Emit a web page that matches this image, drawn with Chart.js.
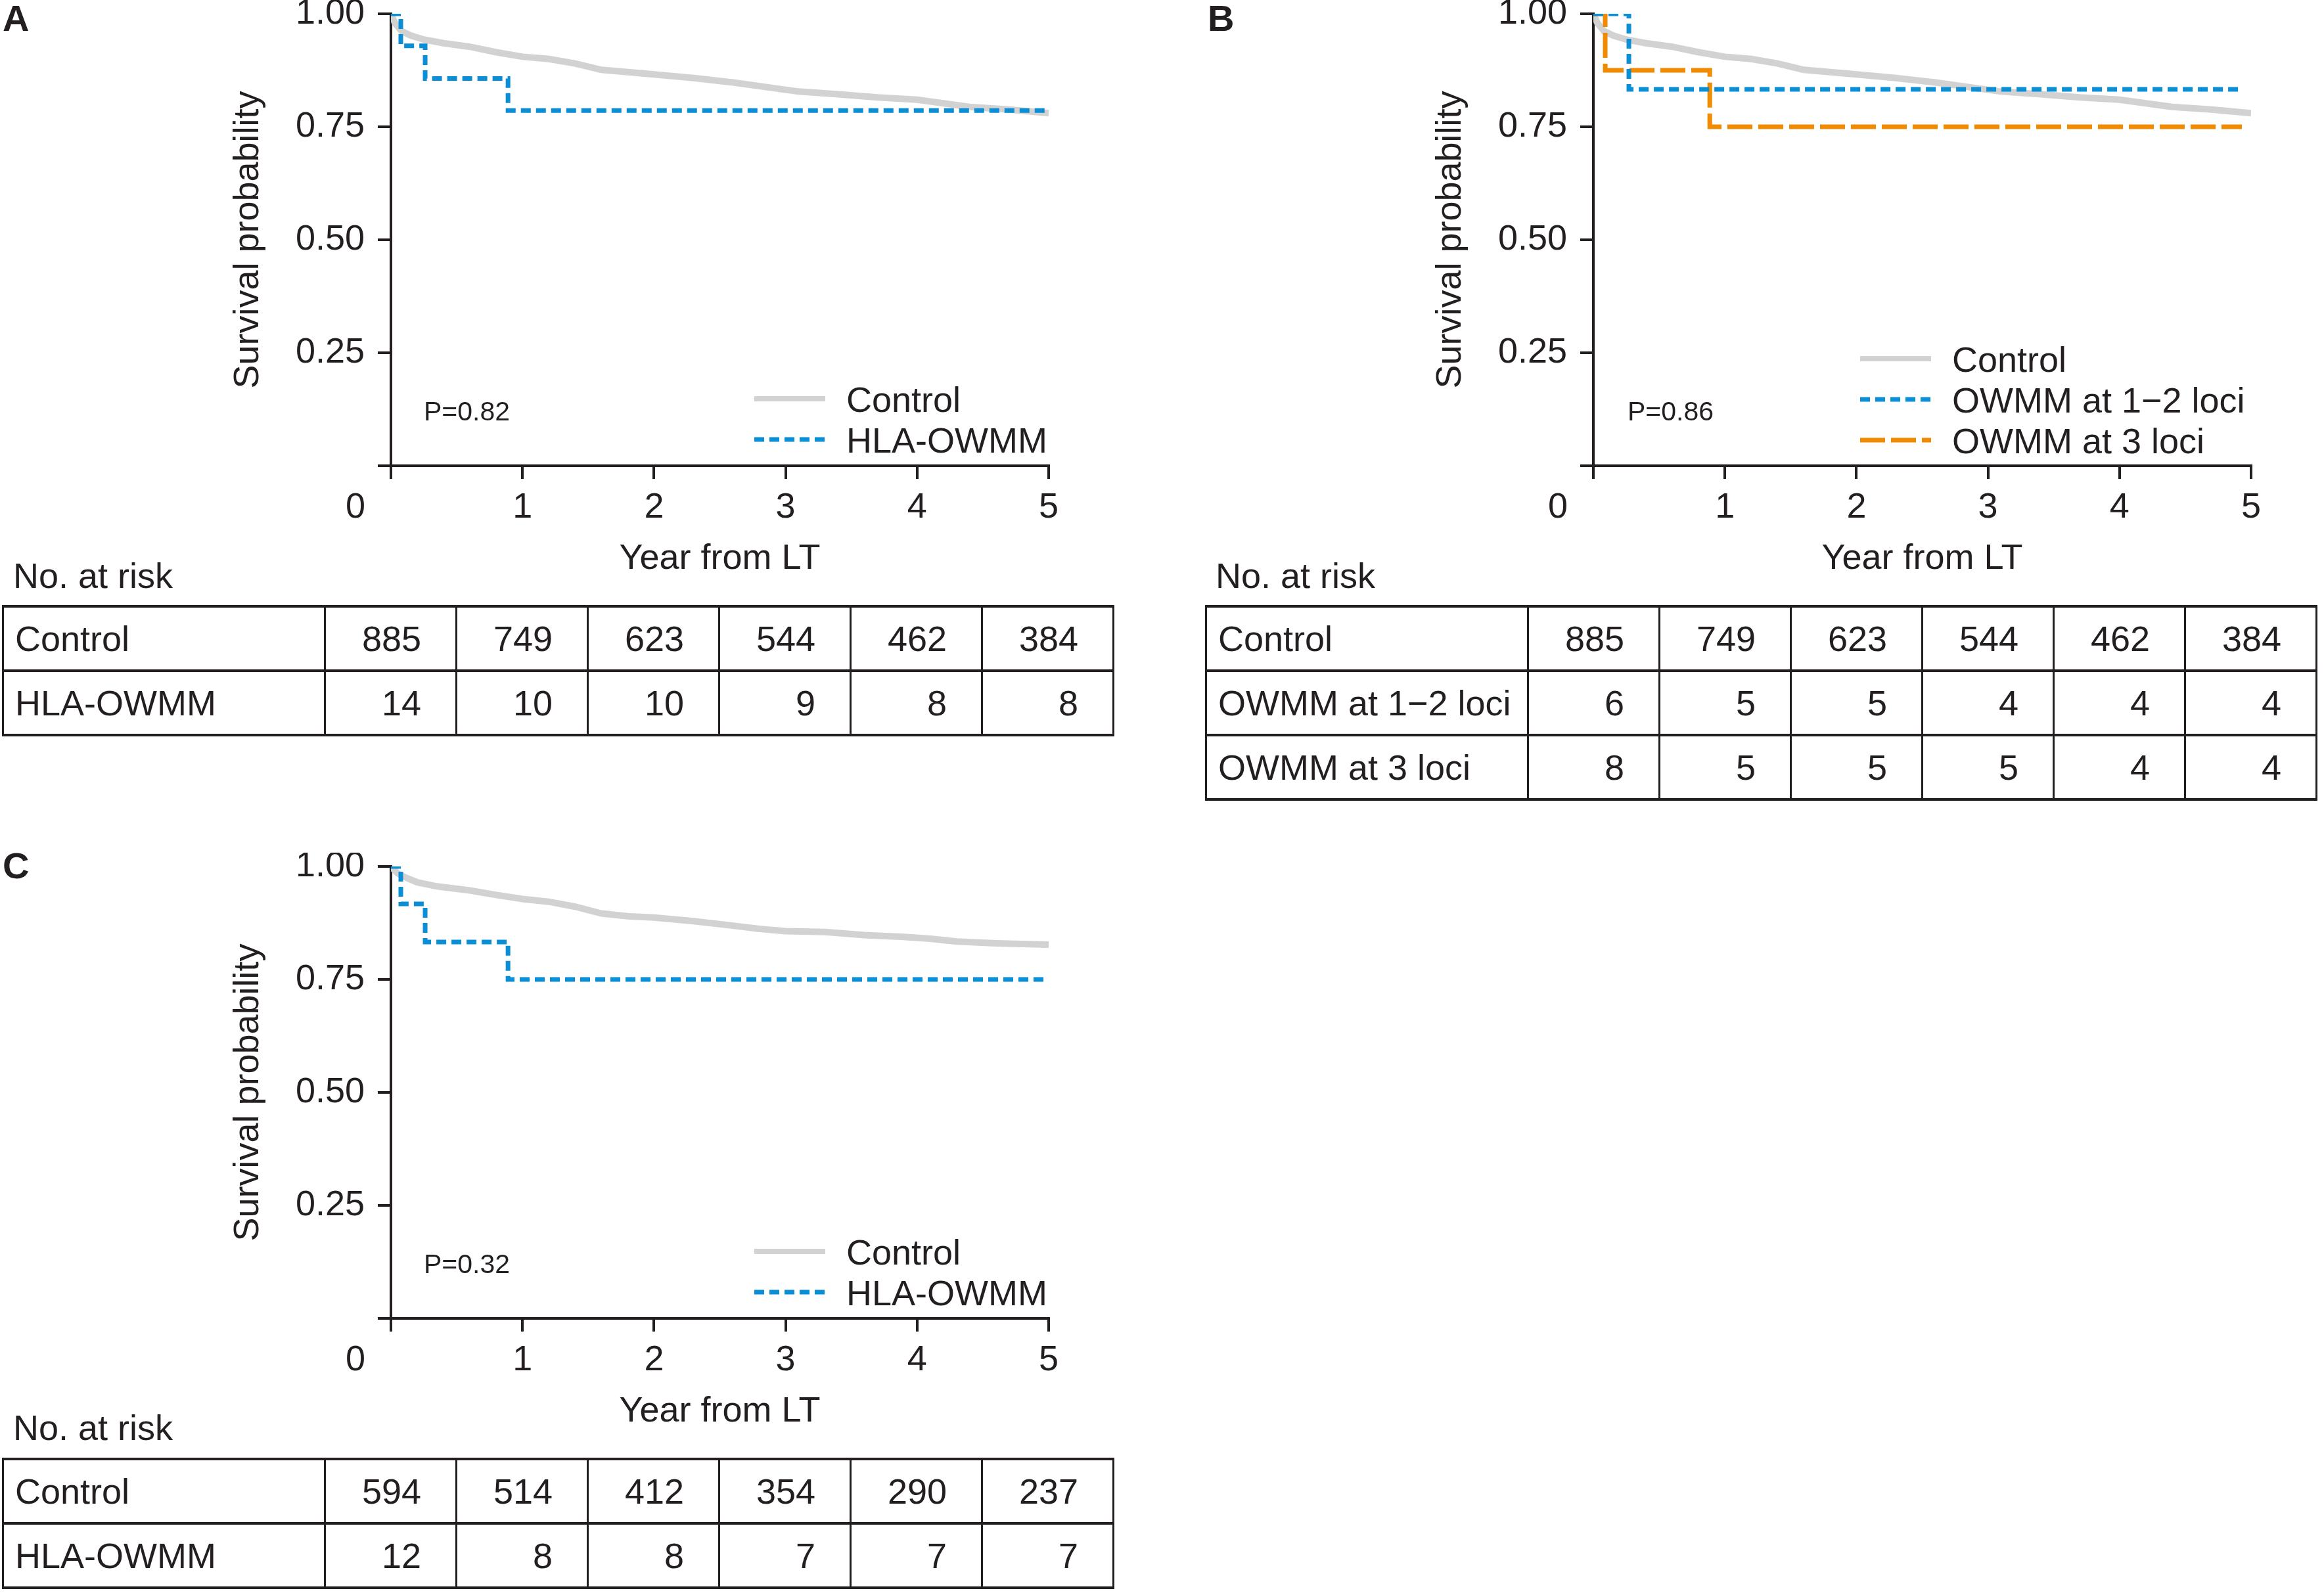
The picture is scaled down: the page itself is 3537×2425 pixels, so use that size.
<!DOCTYPE html>
<html>
<head>
<meta charset="utf-8">
<script src="https://cdn.jsdelivr.net/npm/chart.js@4.4.1/dist/chart.umd.min.js"></script>
<style>
  html, body { margin: 0; padding: 0; background: #fff; }
  body { width: 3537px; height: 2425px; position: relative; overflow: hidden;
         font-family: "Liberation Sans", Arial, Helvetica, sans-serif; color: #231f20; }
  canvas { position: absolute; }
  .letter { position: absolute; font-weight: bold; font-size: 56px; line-height: 1; }
  .risk { position: absolute; font-size: 54px; line-height: 1; white-space: nowrap; }
  table.risk-table { position: absolute; border-collapse: collapse; table-layout: fixed;
                     width: 1690px; font-size: 54px; color: #231f20; }
  table.risk-table td { height: 94px; padding: 0; line-height: 1; white-space: nowrap;
                        border-top: 4px solid #231f20; border-bottom: 4px solid #231f20;
                        border-left: 3px solid #231f20; border-right: 3px solid #231f20; }
  td.lab { text-align: left; padding-left: 17px !important; }
  td.num { text-align: right; padding-right: 52px !important; }
</style>
</head>
<body>

<div class="letter" style="left:4px; top:0px;">A</div>
<div class="letter" style="left:1838px; top:0px;">B</div>
<div class="letter" style="left:4px; top:1290px;">C</div>

<canvas id="chartA" width="1700" height="884" style="left:0px; top:0px;"></canvas>
<canvas id="chartB" width="1700" height="884" style="left:1830px; top:0px;"></canvas>
<canvas id="chartC" width="1700" height="884" style="left:0px; top:1298px;"></canvas>

<div class="risk" style="left:20px; top:849px;">No. at risk</div>
<div class="risk" style="left:1850px; top:849px;">No. at risk</div>
<div class="risk" style="left:20px; top:2146px;">No. at risk</div>

<script>
// axis ticks
const years = [0, 1, 2, 3, 4, 5];
const yTicks = [0, 0.25, 0.5, 0.75, 1];

// A and B share the same control cohort (n = 885)
const controlAB_t = [0, 0.03, 0.08, 0.15, 0.25, 0.4, 0.6, 0.8, 1.0, 1.2, 1.4, 1.6, 1.8, 2.0, 2.3, 2.6, 2.9, 3.1, 3.4, 3.7, 4.0, 4.2, 4.4, 4.7, 5.0];
const controlAB_s = [1.0, 0.98, 0.962, 0.952, 0.943, 0.935, 0.927, 0.915, 0.905, 0.9, 0.89, 0.876, 0.871, 0.866, 0.858, 0.848, 0.836, 0.828, 0.822, 0.815, 0.81, 0.802, 0.794, 0.788, 0.78];

const owmmA_t = [0, 0.075, 0.26, 0.89, 5];
const owmmA_s = [1.0, 0.929, 0.857, 0.786, 0.786];

const loci12_t = [0, 0.27, 4.93];
const loci12_s = [1.0, 0.833, 0.833];
const loci3_t = [0, 0.09, 0.885, 4.93];
const loci3_s = [1.0, 0.875, 0.75, 0.75];

const controlC_t = [0, 0.05, 0.1, 0.2, 0.35, 0.6, 0.8, 1.0, 1.2, 1.4, 1.6, 1.8, 2.0, 2.3, 2.6, 2.8, 3.0, 3.3, 3.6, 3.9, 4.1, 4.3, 4.6, 5.0];
const controlC_s = [1.0, 0.985, 0.977, 0.965, 0.956, 0.947, 0.937, 0.928, 0.922, 0.911, 0.896, 0.89, 0.887, 0.879, 0.869, 0.862, 0.857, 0.855, 0.848, 0.844, 0.84, 0.834, 0.83, 0.827];
const owmmC_t = [0, 0.075, 0.26, 0.89, 5];
const owmmC_s = [1.0, 0.917, 0.833, 0.75, 0.75];

// numbers at risk
const riskA_control = [885, 749, 623, 544, 462, 384];
const riskA_owmm = [14, 10, 10, 9, 8, 8];
const riskB_loci12 = [6, 5, 5, 4, 4, 4];
const riskB_loci3 = [8, 5, 5, 5, 4, 4];
const riskC_control = [594, 514, 412, 354, 290, 237];
const riskC_owmm = [12, 8, 8, 7, 7, 7];

const ink = '#231f20';
const family = '"Liberation Sans", Arial, Helvetica, sans-serif';
const gray = '#d2d2d2', blue = '#0a8fd6', orange = '#f08a00';

function pts(t, s) {
    return t.map((x, i) => ({ x: x, y: s[i] }));
}

// legend + p value + the "0" at the origin
const kmExtras = {
    id: 'kmExtras',
    afterDraw(chart, args, opts) {
        const ctx = chart.ctx;
        const xs = chart.scales.x;
        ctx.save();
        ctx.fillStyle = ink;
        ctx.textBaseline = 'middle';

        ctx.font = '54px ' + family;
        ctx.textAlign = 'center';
        ctx.fillText('0', xs.getPixelForValue(0) - 54, chart.chartArea.bottom + 20 + 12 + 32.4);

        ctx.textAlign = 'left';
        ctx.font = '41px ' + family;
        ctx.fillText(opts.pText, opts.pX, opts.pY);

        ctx.font = '54px ' + family;
        chart.data.datasets.forEach((ds, i) => {
            const y = opts.legY + i * opts.legGap;
            ctx.beginPath();
            ctx.setLineDash(ds.borderDash || []);
            ctx.lineWidth = ds.legendWidth || ds.borderWidth;
            ctx.strokeStyle = ds.borderColor;
            ctx.lineCap = 'butt';
            ctx.moveTo(opts.legX, y);
            ctx.lineTo(opts.legX + 108, y);
            ctx.stroke();
            ctx.setLineDash([]);
            ctx.fillText(ds.label, opts.legX + 140, y + 5);
        });
        ctx.restore();
    }
};

function drawPanel(id, datasets, extras) {
    new Chart(document.getElementById(id), {
        type: 'line',
        data: { datasets: datasets },
        options: {
            responsive: false,
            animation: false,
            layout: { padding: { left: 0, top: 21, right: 104, bottom: 0 } },
            elements: { point: { radius: 0 }, line: { tension: 0, borderCapStyle: 'butt' } },
            plugins: { legend: { display: false }, tooltip: { enabled: false }, kmExtras: extras },
            scales: {
                x: {
                    type: 'linear', min: 0, max: 5,
                    afterBuildTicks: s => { s.ticks = years.map(v => ({ value: v })); },
                    afterFit: s => { s.height = 175; s.paddingLeft = 0; s.paddingRight = 0; },
                    ticks: {
                        callback: v => v === 0 ? '' : String(v),
                        font: { family: family, size: 54 }, color: ink,
                        padding: 12, maxRotation: 0, autoSkip: false
                    },
                    grid: { drawOnChartArea: false, drawTicks: true, tickLength: 20, lineWidth: 4, color: ink },
                    border: { display: true, width: 4, color: ink },
                    title: { display: true, text: 'Year from LT', color: ink,
                             font: { family: family, size: 54 }, padding: { top: 0, bottom: 0 } }
                },
                y: {
                    type: 'linear', min: 0, max: 1,
                    afterBuildTicks: s => { s.ticks = yTicks.map(v => ({ value: v })); },
                    afterFit: s => { s.width = 595; s.paddingTop = 0; s.paddingBottom = 0; },
                    ticks: {
                        callback: v => v === 0 ? '' : v.toFixed(2),
                        font: { family: family, size: 54, lineHeight: 0.2 }, color: ink,
                        padding: 20
                    },
                    grid: { drawOnChartArea: false, drawTicks: true, tickLength: 20, lineWidth: 4, color: ink },
                    border: { display: true, width: 4, color: ink },
                    title: { display: true, text: 'Survival probability', color: ink,
                             font: { family: family, size: 54 }, padding: { top: 346, bottom: 0 } }
                }
            }
        },
        plugins: [kmExtras]
    });
}

function controlSet(t, s) {
    return { label: 'Control', data: pts(t, s), borderColor: gray, borderWidth: 10,
             legendWidth: 8, order: 3, stepped: false };
}

drawPanel('chartA', [
    controlSet(controlAB_t, controlAB_s),
    { label: 'HLA-OWMM', data: pts(owmmA_t, owmmA_s), borderColor: blue, borderWidth: 7,
      borderDash: [15, 8], order: 1, stepped: 'before' }
], { pText: 'P=0.82', pX: 645, pY: 629, legX: 1148, legY: 607, legGap: 62 });

drawPanel('chartB', [
    controlSet(controlAB_t, controlAB_s),
    { label: 'OWMM at 1\u22122 loci', data: pts(loci12_t, loci12_s), borderColor: blue, borderWidth: 7,
      borderDash: [15, 8], order: 1, stepped: 'before' },
    { label: 'OWMM at 3 loci', data: pts(loci3_t, loci3_s), borderColor: orange, borderWidth: 7,
      borderDash: [38, 9], order: 2, stepped: 'before' }
], { pText: 'P=0.86', pX: 647, pY: 629, legX: 1001, legY: 546, legGap: 62 });

drawPanel('chartC', [
    controlSet(controlC_t, controlC_s),
    { label: 'HLA-OWMM', data: pts(owmmC_t, owmmC_s), borderColor: blue, borderWidth: 7,
      borderDash: [15, 8], order: 1, stepped: 'before' }
], { pText: 'P=0.32', pX: 645, pY: 629, legX: 1148, legY: 607, legGap: 62 });

// at-risk tables
function buildTable(left, top, rows) {
    const tbl = document.createElement('table');
    tbl.className = 'risk-table';
    tbl.style.left = left + 'px';
    tbl.style.top = top + 'px';
    const cg = document.createElement('colgroup');
    [490, 200, 200, 200, 200, 200, 200].forEach(w => {
        const col = document.createElement('col');
        col.style.width = w + 'px';
        cg.appendChild(col);
    });
    tbl.appendChild(cg);
    rows.forEach(r => {
        const tr = tbl.insertRow();
        const lab = tr.insertCell();
        lab.className = 'lab';
        lab.textContent = r.label;
        r.values.forEach(v => {
            const td = tr.insertCell();
            td.className = 'num';
            td.textContent = v;
        });
    });
    document.body.appendChild(tbl);
}

buildTable(3, 921, [
    { label: 'Control', values: riskA_control },
    { label: 'HLA-OWMM', values: riskA_owmm }
]);
buildTable(1834, 921, [
    { label: 'Control', values: riskA_control },
    { label: 'OWMM at 1\u22122 loci', values: riskB_loci12 },
    { label: 'OWMM at 3 loci', values: riskB_loci3 }
]);
buildTable(3, 2219, [
    { label: 'Control', values: riskC_control },
    { label: 'HLA-OWMM', values: riskC_owmm }
]);
</script>
</body>
</html>
